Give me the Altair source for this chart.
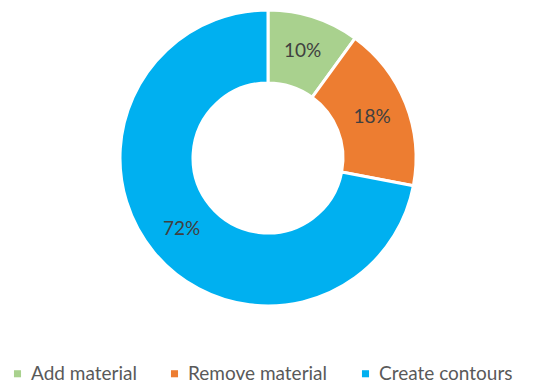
import altair as alt
import pandas as pd

categories = ["Add material", "Remove material", "Create contours"]
values = [10, 18, 72]
labels = ["10%", "18%", "72%"]
colors = ["#A9D18E", "#ED7D31", "#00B0F0"]

df = pd.DataFrame({"cat": categories, "val": values, "label": labels, "order": [0, 1, 2]})

FONT = "Lato"

base = alt.Chart(df).encode(
    theta=alt.Theta("val:Q", stack=True),
    order=alt.Order("order:Q"),
    x=alt.value(260),
    y=alt.value(150),
)

arcs = base.mark_arc(innerRadius=75, outerRadius=148, stroke="white", strokeWidth=3).encode(
    color=alt.Color(
        "cat:N",
        scale=alt.Scale(domain=categories, range=colors),
        legend=alt.Legend(
            title=None,
            orient="none",
            direction="horizontal",
            legendX=0,
            legendY=356,
            padding=0,
            symbolType="square",
            symbolSize=50,
            symbolStrokeWidth=0,
            labelFont=FONT,
            labelFontSize=19,
            labelColor="#595959",
            labelOffset=4,
            columnPadding=28,
            labelLimit=300,
        ),
    )
)

text = base.mark_text(radius=112, font=FONT, fontSize=19, color="#404040").encode(
    text="label:N"
)

chart = (
    (arcs + text)
    .properties(width=517, height=376, padding=0, autosize="none")
    .configure_view(stroke=None)
)

chart.save("out.html", embed_options={"renderer": "svg", "actions": False})
